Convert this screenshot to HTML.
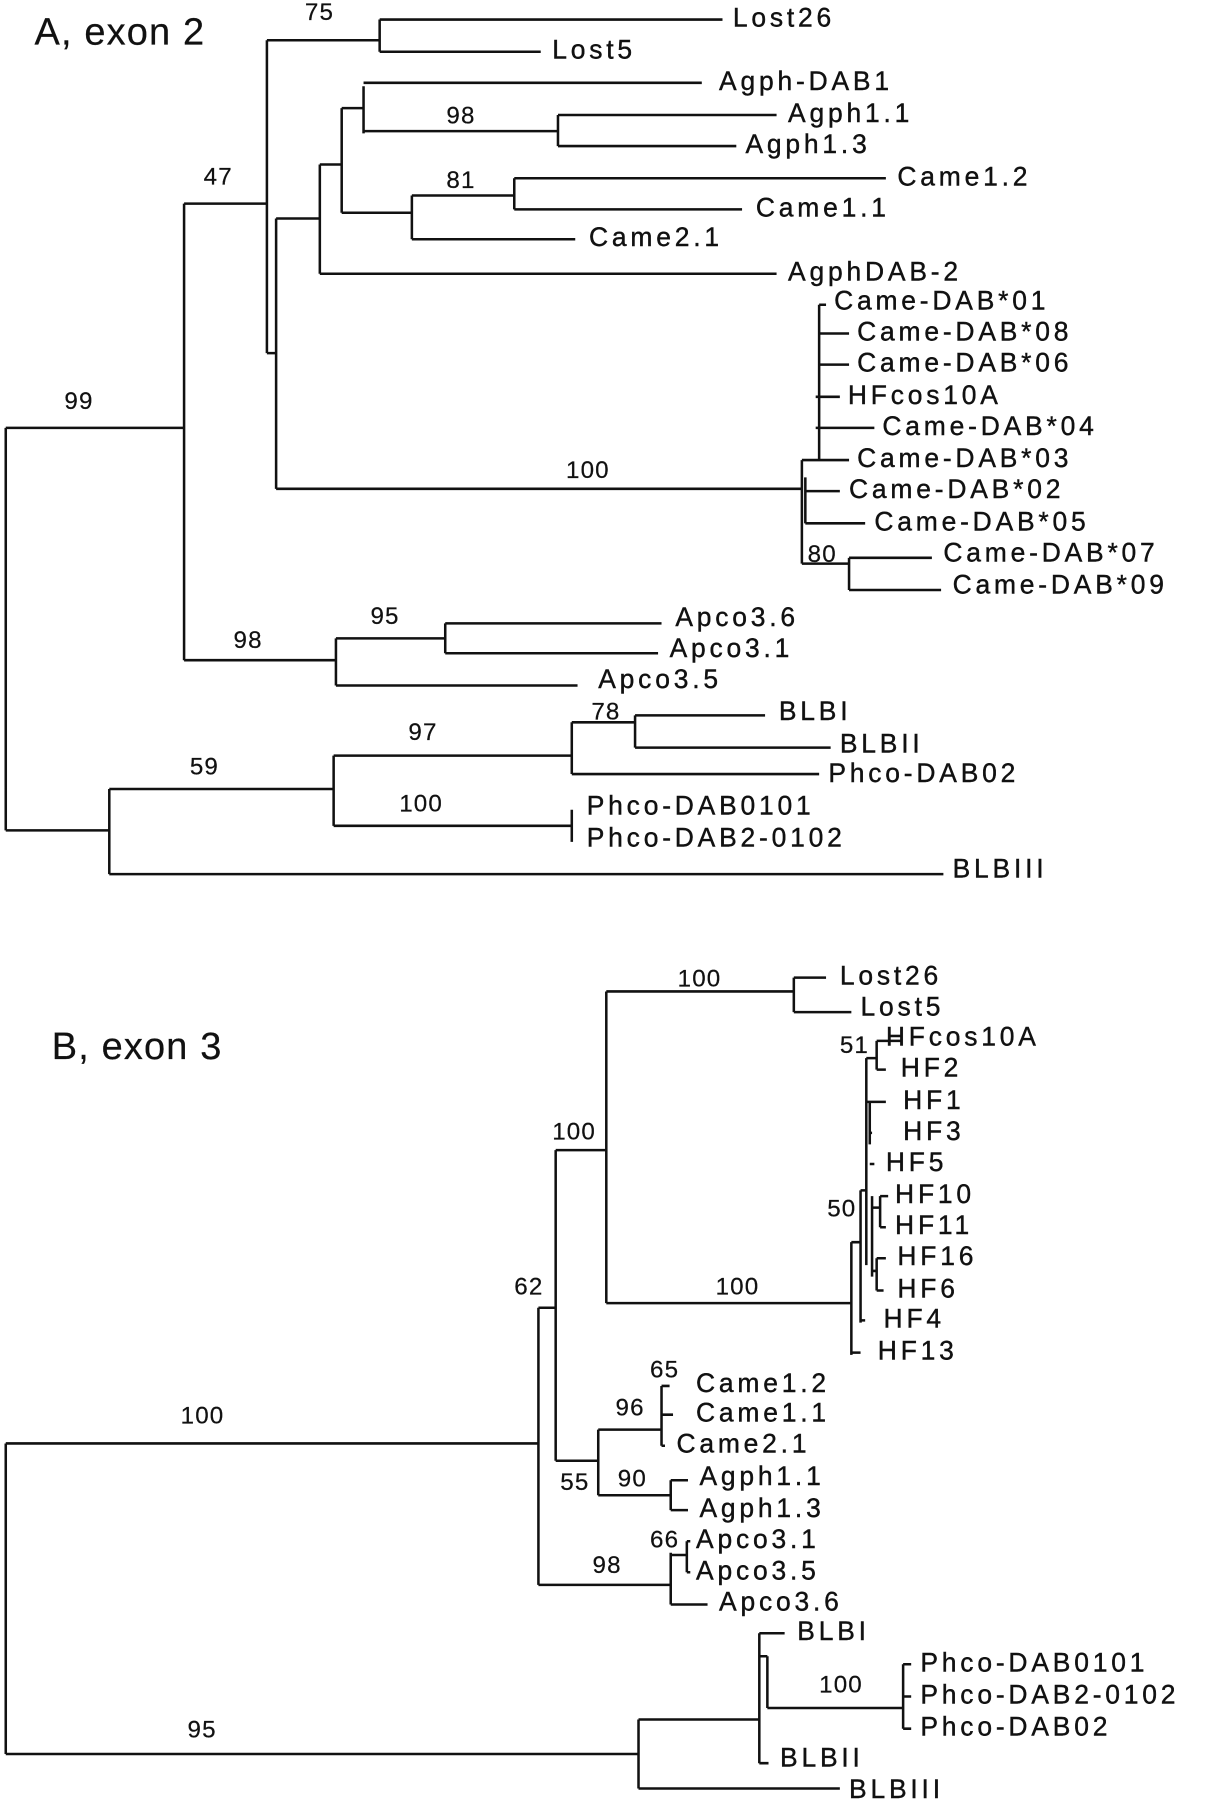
<!DOCTYPE html>
<html><head><meta charset="utf-8"><style>
html,body{margin:0;padding:0;background:#fff;}
svg{display:block}
text{font-family:"Liberation Sans",Arial,sans-serif;font-size:23px;letter-spacing:3.3px;fill:#111;stroke:#111;stroke-width:0.35;dominant-baseline:middle}
text.n{font-size:21px;letter-spacing:1px;stroke-width:0.2}
.t{font-size:33px;letter-spacing:1px;stroke-width:0.2}
path{fill:none;stroke:#111;stroke-width:2.2}
</style></head><body>
<svg width="1208" height="1800" viewBox="0 0 1050 1565" preserveAspectRatio="none">
<text class="t" x="30" y="30">A, exon 2</text>
<path d="M5 372V722 M5 372H160 M5 722H95
M160 177V574 M160 177H232
M232 35V307 M232 307H240
M232 35H330 M330 17V45 M330 17H628 M330 45H470
M240 190V425 M240 190H278
M278 143V238 M278 143H297 M278 238H675
M297 94V185 M297 94H316
M316 75V116 M316 72H610 M316 114H485
M485 100V127 M485 100H675 M485 127H640
M297 185H358 M358 170V208 M358 170H447 M358 208H500
M447 155V182 M447 155H770 M447 182H645
M240 425H697 M697 400V490
M712 265V400 M712 265H718 M712 290H738 M712 317H738 M709 345H730 M709 372H760 M707 400H738
M697 400H712 M700 415V455 M700 427H730 M700 455H752
M697 490H738 M738 485V513 M738 485H810 M738 513H818
M160 574H292 M292 555V596 M292 555H387 M387 542V568 M387 542H575 M387 568H572 M292 596H502
M95 686V760 M95 686H290 M95 760H820
M290 657V718 M290 657H497 M497 628V673 M497 628H552 M552 622V650 M552 622H665 M552 650H722 M497 673H712
M290 718H497 M497 704V732"/>
<text class="n" x="265" y="12">75</text><text x="637" y="17">Lost26</text><text x="480" y="45">Lost5</text>
<text class="n" x="177" y="155">47</text><text class="n" x="56" y="350">99</text>
<text x="625" y="72">Agph-DAB1</text><text class="n" x="388" y="102">98</text>
<text x="685" y="100">Agph1.1</text><text x="648" y="127">Agph1.3</text>
<text class="n" x="388" y="158">81</text><text x="780" y="155">Came1.2</text><text x="657" y="182">Came1.1</text><text x="512" y="208">Came2.1</text>
<text x="685" y="238">AgphDAB-2</text>
<text x="725" y="263">Came-DAB*01</text><text x="745" y="290">Came-DAB*08</text><text x="745" y="317">Came-DAB*06</text>
<text x="737" y="345">HFcos10A</text><text x="767" y="372">Came-DAB*04</text><text x="745" y="400">Came-DAB*03</text>
<text class="n" x="492" y="410">100</text>
<text x="738" y="427">Came-DAB*02</text><text x="760" y="455">Came-DAB*05</text>
<text class="n" x="702" y="483">80</text><text x="820" y="482">Came-DAB*07</text><text x="828" y="510">Came-DAB*09</text>
<text class="n" x="322" y="537">95</text><text x="587" y="538">Apco3.6</text><text class="n" x="203" y="558">98</text>
<text x="582" y="565">Apco3.1</text><text x="520" y="592">Apco3.5</text>
<text class="n" x="514" y="620">78</text><text x="677" y="620">BLBI</text><text class="n" x="355" y="638">97</text>
<text x="730" y="648">BLBII</text><text class="n" x="165" y="668">59</text><text x="720" y="674">Phco-DAB02</text>
<text class="n" x="347" y="700">100</text><text x="510" y="702">Phco-DAB0101</text><text x="510" y="730">Phco-DAB2-0102</text>
<text x="828" y="757">BLBIII</text>

<text class="t" x="45" y="912">B, exon 3</text>
<path d="M5 1255V1525 M5 1255H468 M5 1525H555
M468 1137V1378 M468 1137H483 M483 1000V1270 M483 1000H527
M527 862V1133 M527 862H690 M690 850V880 M690 850H718 M690 880H740
M527 1133H740 M740 1080V1178 M740 1080H748 M748 1035V1150 M748 1035H753 M753 920V1100 M753 920H762
M762 905V930 M762 905H783 M762 930H770
M753 958H770 M756 958V995 M756 985H758 M756 1012H760
M758 1040V1110 M758 1050H765 M765 1040V1067 M765 1040H772 M765 1067H770
M758 1105H762 M762 1094V1122 M762 1094H770 M762 1122H768
M748 1148H752 M740 1176H748
M483 1270H520 M520 1243V1300 M520 1243H575 M575 1205V1257 M575 1205H582 M575 1230H585 M575 1257H578
M520 1300H583 M583 1287V1313 M583 1287H598 M583 1313H598
M468 1378H583 M583 1350V1395 M583 1352H597 M597 1340V1367 M597 1340H600 M597 1367H600 M583 1395H615
M555 1495V1555 M555 1495H660 M555 1555H730
M660 1420V1533 M660 1420H682 M660 1533H668
M667 1440V1485 M660 1440H667 M667 1485H785 M785 1447V1503 M785 1447H792 M785 1475H792 M785 1503H792"/>
<text class="n" x="589" y="852">100</text><text x="730" y="850">Lost26</text><text x="748" y="877">Lost5</text>
<text class="n" x="730" y="910">51</text><text x="770" y="903">HFcos10A</text><text x="783" y="930">HF2</text>
<text x="785" y="958">HF1</text><text class="n" x="480" y="985">100</text><text x="785" y="985">HF3</text><text x="770" y="1012">HF5</text>
<text class="n" x="719" y="1052">50</text><text x="778" y="1040">HF10</text><text x="778" y="1067">HF11</text><text x="780" y="1094">HF16</text>
<text class="n" x="447" y="1120">62</text><text class="n" x="622" y="1120">100</text><text x="780" y="1122">HF6</text><text x="768" y="1148">HF4</text><text x="763" y="1176">HF13</text>
<text class="n" x="565" y="1192">65</text><text x="605" y="1204">Came1.2</text><text class="n" x="535" y="1225">96</text><text x="605" y="1230">Came1.1</text>
<text class="n" x="157" y="1232">100</text><text x="588" y="1257">Came2.1</text>
<text class="n" x="537" y="1287">90</text><text x="608" y="1285">Agph1.1</text><text class="n" x="487" y="1290">55</text><text x="608" y="1313">Agph1.3</text>
<text class="n" x="565" y="1340">66</text><text x="605" y="1340">Apco3.1</text><text class="n" x="515" y="1362">98</text><text x="605" y="1367">Apco3.5</text><text x="625" y="1394">Apco3.6</text>
<text x="693" y="1420">BLBI</text><text x="800" y="1447">Phco-DAB0101</text><text class="n" x="712" y="1466">100</text>
<text x="800" y="1475">Phco-DAB2-0102</text><text x="800" y="1503">Phco-DAB02</text>
<text class="n" x="163" y="1505">95</text><text x="678" y="1530">BLBII</text><text x="738" y="1557">BLBIII</text>
</svg>
</body></html>
